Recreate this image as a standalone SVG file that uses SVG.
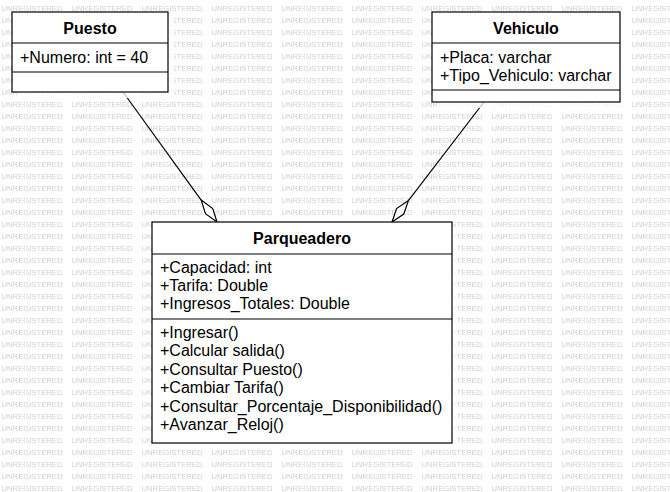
<svg xmlns="http://www.w3.org/2000/svg" width="670" height="492" viewBox="0 0 670 492">
<style>
.wm{font-family:"Liberation Sans",Arial,sans-serif;font-size:8px;fill:#cfcfcf;}
.box{fill:#fff;stroke:#000;stroke-width:1.2;}
.shadow{fill:#fff;opacity:0.75;}
.sep{stroke:#000;stroke-width:1.2;}
.title{font-family:"Liberation Sans",Arial,sans-serif;font-size:16px;font-weight:bold;fill:#000;text-anchor:middle;}
.t{font-family:"Liberation Sans",Arial,sans-serif;font-size:16px;fill:#000;}
.conn{fill:none;stroke:#000;stroke-width:1.2;}
.dia{fill:#fff;stroke:#000;stroke-width:1.2;}
</style>
<defs>
<pattern id="wmp" x="0" y="0" width="70" height="12" patternUnits="userSpaceOnUse">
<text class="wm" x="1.5" y="10.5" textLength="61" lengthAdjust="spacingAndGlyphs">UNREGISTERED</text>
</pattern>
</defs>
<rect width="670" height="492" fill="#fff"/>
<rect width="670" height="492" fill="url(#wmp)"/>
<g id="connectors">
<line class="conn" x1="123" y1="92" x2="201.2" y2="200.1"/>
<polygon class="dia" points="201.2,200.1 212.75,208.5 217,222 205.45,213.7"/>
<line class="conn" x1="484" y1="102" x2="408.4" y2="200.6"/>
<polygon class="dia" points="408.4,200.6 403.8,214 392,222 396.6,208.6"/>
</g>
<g id="puesto">
<rect class="shadow" x="18" y="18" width="156" height="80"/>
<rect class="box" x="12" y="12" width="156" height="80"/>
<line class="sep" x1="12" y1="43" x2="168" y2="43"/>
<line class="sep" x1="12" y1="72" x2="168" y2="72"/>
<text class="title" x="90" y="34">Puesto</text>
<text class="t" x="20" y="63">+Numero: int = 40</text>
</g>
<g id="vehiculo">
<rect class="shadow" x="438" y="18" width="188" height="90"/>
<rect class="box" x="432" y="12" width="188" height="90"/>
<line class="sep" x1="432" y1="43" x2="620" y2="43"/>
<line class="sep" x1="432" y1="90" x2="620" y2="90"/>
<text class="title" x="526" y="34">Vehiculo</text>
<text class="t" x="440" y="63">+Placa: varchar</text>
<text class="t" x="440" y="81">+Tipo_Vehiculo: varchar</text>
</g>
<g id="parqueadero">
<rect class="shadow" x="158" y="228" width="300" height="221"/>
<rect class="box" x="152" y="222" width="300" height="221"/>
<line class="sep" x1="152" y1="254" x2="452" y2="254"/>
<line class="sep" x1="152" y1="319" x2="452" y2="319"/>
<text class="title" x="302" y="244">Parqueadero</text>
<text class="t" x="160" y="273">+Capacidad: int</text>
<text class="t" x="160" y="291">+Tarifa: Double</text>
<text class="t" x="160" y="309">+Ingresos_Totales: Double</text>
<text class="t" x="160" y="338">+Ingresar()</text>
<text class="t" x="160" y="356.4">+Calcular salida()</text>
<text class="t" x="160" y="374.8">+Consultar Puesto()</text>
<text class="t" x="160" y="393.2">+Cambiar Tarifa()</text>
<text class="t" x="160" y="411.6">+Consultar_Porcentaje_Disponibilidad()</text>
<text class="t" x="160" y="430">+Avanzar_Reloj()</text>
</g>
</svg>
